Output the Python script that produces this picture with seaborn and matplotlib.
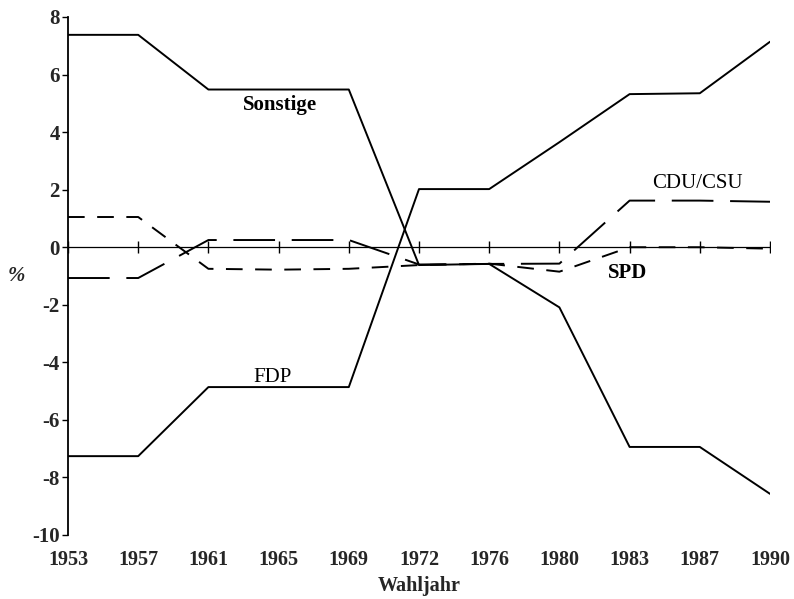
import matplotlib
matplotlib.use("Agg")
import matplotlib.pyplot as plt
import seaborn as sns
import pandas as pd

# ---- data ----
years = ['1953', '1957', '1961', '1965', '1969', '1972', '1976', '1980', '1983', '1987', '1990']
sonstige = [7.38, 7.38, 5.48, 5.48, 5.48, -0.62, -0.58, -2.09, -6.94, -6.94, -8.57]
fdp = [-7.26, -7.26, -4.86, -4.86, -4.86, 2.02, 2.02, 3.65, 5.32, 5.35, 7.14]
cdu_csu = [-1.07, -1.07, 0.25, 0.25, 0.25, -0.60, -0.58, -0.57, 1.62, 1.62, 1.58]
spd = [1.05, 1.05, -0.75, -0.78, -0.75, -0.62, -0.57, -0.85, 0.0, 0.0, -0.05]
parties = ['Sonstige', 'FDP', 'CDU/CSU', 'SPD']
y_ticks = [-10, -8, -6, -4, -2, 0, 2, 4, 6, 8]
x_label = 'Wahljahr'
y_label = '%'

series = {'Sonstige': sonstige, 'FDP': fdp, 'CDU/CSU': cdu_csu, 'SPD': spd}
df = pd.DataFrame([
    {'Wahljahr': y, 'value': v, 'party': p}
    for p in parties for y, v in zip(years, series[p])
])

sns.set_theme(style='white')
plt.rcParams['font.family'] = ['Liberation Serif', 'DejaVu Serif']
plt.rcParams['axes.unicode_minus'] = False
plt.rcParams['lines.scale_dashes'] = False

fig = plt.figure(figsize=(7.94, 5.99), dpi=100)
ax = fig.add_axes([68 / 794, 1 - 535 / 599, (770 - 68) / 794, (535 - 17) / 599])

dash_map = {'Sonstige': '', 'FDP': '', 'CDU/CSU': (30, 12), 'SPD': (12, 9)}
sns.lineplot(data=df, x='Wahljahr', y='value', style='party', style_order=parties,
             dashes=dash_map, color='black', linewidth=1.4, legend=False, ax=ax,
             estimator=None, sort=False)

# zero line with year ticks
ax.axhline(0, color='black', lw=0.9, zorder=1)
ax.plot(range(len(years)), [0] * len(years), ls='none', marker='|',
        markersize=8, markeredgewidth=1.0, color='black', zorder=1)

ax.set_xlim(0, len(years) - 1)
ax.set_ylim(-10, 8)
ax.set_yticks(y_ticks)
ax.set_yticklabels([str(t) for t in y_ticks], fontsize=15, fontweight='bold')
ax.set_xticks(range(len(years)))
ax.set_xticklabels(years, fontsize=14.5, fontweight='bold')

for s in ['top', 'right', 'bottom']:
    ax.spines[s].set_visible(False)
ax.spines['left'].set_color('black')
ax.spines['left'].set_linewidth(1.3)
ax.tick_params(axis='y', direction='out', length=4, width=1, color='black', pad=2, left=True)
ax.tick_params(axis='x', length=0, pad=11)

ax.set_xlabel(x_label, fontsize=14.5, fontweight='bold', labelpad=4)
ax.set_ylabel(y_label, fontsize=15, fontweight='bold', fontstyle='italic', rotation=0,
              va='center', ha='center')
ax.yaxis.set_label_coords(-0.074, 0.5)

label_style = dict(fontsize=15, ha='center', va='center', color='black')
ax.text(3.02, 4.94, 'Sonstige', fontweight='bold', **label_style)
ax.text(8.97, 2.23, 'CDU/CSU', **label_style)
ax.text(7.97, -0.90, 'SPD', fontweight='bold', **label_style)
ax.text(2.92, -4.52, 'FDP', **label_style)

fig.savefig('out.png', dpi=100)
